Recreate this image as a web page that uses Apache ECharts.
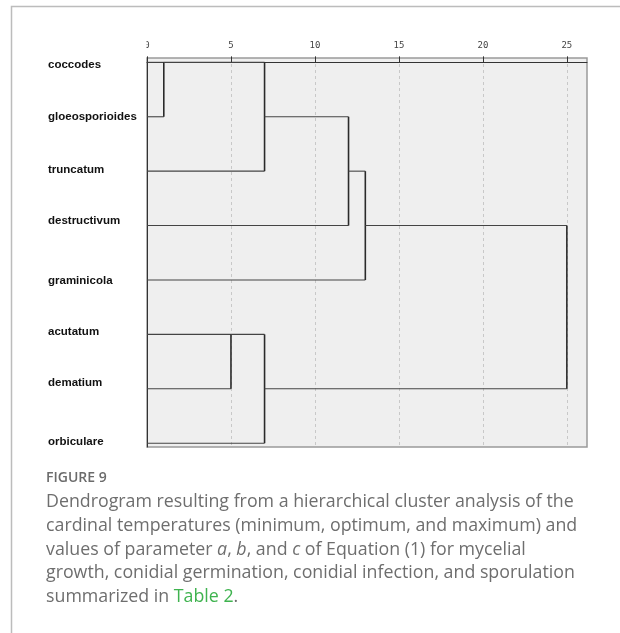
<!DOCTYPE html>
<html><head><meta charset="utf-8">
<script src="https://cdn.jsdelivr.net/npm/echarts@6/dist/echarts.min.js"></script>
<style>html,body{margin:0;padding:0;background:#fff}#c{width:620px;height:633px}</style>
</head><body><div id="c"></div>
<script>
// Leaves (top to bottom)
const leaves = ['coccodes','gloeosporioides','truncatum','destructivum','graminicola','acutatum','dematium','orbiculare'];
// Vertical position of each leaf label (in leaf-row units)
const labelPos = [0.05, 1.01, 1.97, 2.91, 4.01, 4.96, 5.89, 6.97];
// Merges: cluster ids 0-7 = leaves, 8+ = merged clusters in merge order
const mergeA = [0, 8, 9, 10, 5, 12, 11];
const mergeB = [1, 2, 3, 4, 6, 7, 13];
const mergeDist = [1, 7, 12, 13, 5, 7, 25];
// Axis ticks
const xTicks = [0, 5, 10, 15, 20, 25];

// Build dendrogram segments from the merge table
const row = leaves.map((_, i) => i);
const start = leaves.map(() => 0);
const segs = [];
mergeA.forEach((a, k) => {
  const b = mergeB[k], h = mergeDist[k], id = leaves.length + k;
  segs.push([start[a], row[a], h, row[a]]);
  segs.push([start[b], row[b], h, row[b]]);
  segs.push([h, row[a], h, row[b]]);
  row[id] = Math.floor((row[a] + row[b]) / 2);
  start[id] = h;
});

const chart = echarts.init(document.getElementById('c'), null, {renderer: 'canvas'});
const caption =
  'Dendrogram resulting from a hierarchical cluster analysis of the\n' +
  'cardinal temperatures (minimum, optimum, and maximum) and\n' +
  'values of parameter {i|a}, {i|b}, and {i|c} of Equation (1) for mycelial\n' +
  'growth, conidial germination, conidial infection, and sporulation\n' +
  'summarized in {g|Table 2}.';
const capFont = {fontFamily: 'Open Sans', fontSize: 17.8, color: '#6e6e6e', lineHeight: 23.8, fontWeight: 'normal'};

chart.setOption({
  animation: false,
  backgroundColor: '#fff',
  title: [
    {text: 'FIGURE 9', left: 46, top: 470, padding: 0,
     textStyle: {fontFamily: 'Open Sans', fontSize: 14, fontWeight: 600, color: '#6b6b6b', lineHeight: 16}},
    {text: caption, left: 46, top: 490, padding: 0,
     textStyle: Object.assign({}, capFont, {rich: {
       i: Object.assign({}, capFont, {fontStyle: 'italic'}),
       g: Object.assign({}, capFont, {color: '#3fb34f'})
     }})}
  ],
  grid: {left: 147, top: 58, width: 440, height: 389, show: true,
         backgroundColor: '#efefef', borderColor: '#9a9a9a', borderWidth: 1.5},
  xAxis: {
    type: 'value', position: 'top', min: 0, max: 26.2, interval: 5,
    axisLine: {show: true, lineStyle: {color: '#333', width: 1}},
    axisTick: {show: true, length: 6, inside: false, customValues: xTicks, lineStyle: {color: '#333'}},
    axisLabel: {customValues: xTicks, margin: 8, fontFamily: 'DejaVu Sans Mono', fontSize: 9, color: '#444'},
    splitLine: {show: true, lineStyle: {color: '#c8c8c8', type: [3, 3], width: 1}}
  },
  yAxis: {
    type: 'value', inverse: true, min: -0.08, max: 7.07,
    axisLine: {show: true, lineStyle: {color: '#333', width: 1}},
    axisTick: {show: false},
    splitLine: {show: false},
    axisLabel: {
      customValues: labelPos, align: 'left', margin: 99,
      fontFamily: 'Liberation Sans', fontWeight: 'bold', fontSize: 11.5, color: '#111',
      formatter: (v) => {
        let best = 0;
        labelPos.forEach((p, i) => { if (Math.abs(p - v) < Math.abs(labelPos[best] - v)) best = i; });
        return leaves[best];
      }
    }
  },
  graphic: [
    {type: 'polyline', shape: {points: [[11.5, 633], [11.5, 6.5], [620, 6.5]]},
     style: {stroke: '#bcbcbc', lineWidth: 1.5, fill: null}, z: 100},
    {type: 'rect', shape: {x: 136, y: 38, width: 10.5, height: 13}, style: {fill: '#fff'}, z: 100}
  ],
  series: [{
    type: 'custom', coordinateSystem: 'cartesian2d', silent: true,
    data: segs, encode: {x: [0, 2], y: [1, 3]},
    renderItem: (params, api) => {
      const p1 = api.coord([api.value(0), api.value(1)]);
      const p2 = api.coord([api.value(2), api.value(3)]);
      const vert = api.value(0) === api.value(2);
      return {type: 'line', shape: {x1: p1[0], y1: p1[1], x2: p2[0], y2: p2[1]},
              style: {stroke: vert ? '#2a2a2a' : '#444', lineWidth: vert ? 1.6 : 1.1}};
    }
  }]
});
</script></body></html>
